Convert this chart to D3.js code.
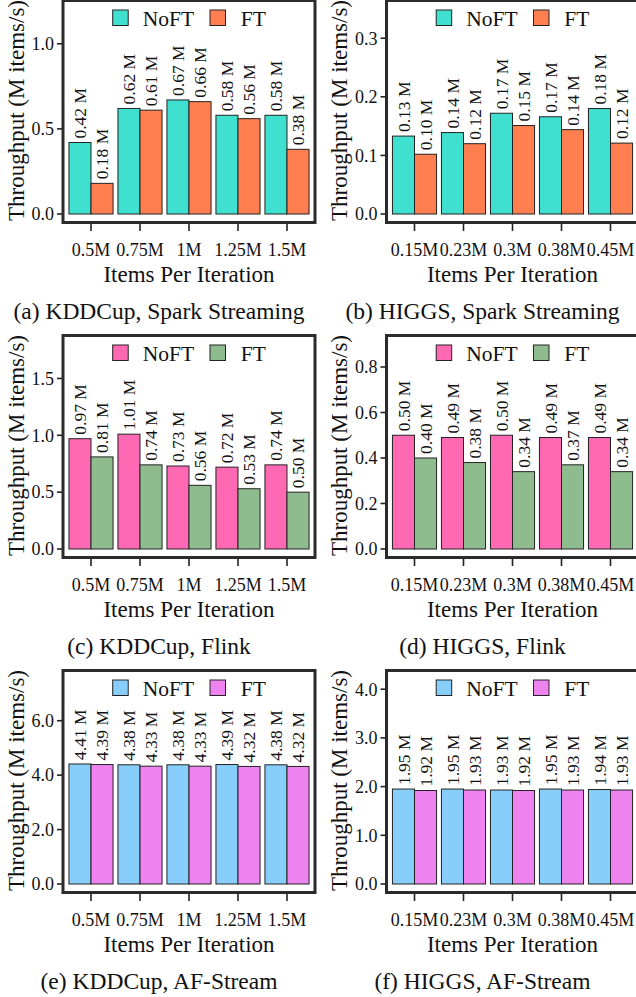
<!DOCTYPE html>
<html><head><meta charset="utf-8">
<script src="https://cdn.jsdelivr.net/npm/d3@7"></script>
<style>
html,body{margin:0;padding:0;background:#fff;}
svg{display:block;}
</style></head>
<body>
<svg id="c" width="636" height="997"></svg>
<script>
// ---- data ----
const catsKDD = ["0.5M","0.75M","1M","1.25M","1.5M"];
const catsHIGGS = ["0.15M","0.23M","0.3M","0.38M","0.45M"];
const seriesNames = ["NoFT","FT"];

const sparkKDD_NoFT = [0.42,0.62,0.67,0.58,0.58];
const sparkKDD_FT   = [0.18,0.61,0.66,0.56,0.38];
const sparkHIGGS_NoFT = [0.133,0.139,0.172,0.166,0.180];
const sparkHIGGS_FT   = [0.102,0.120,0.151,0.144,0.121];
const flinkKDD_NoFT = [0.97,1.01,0.73,0.72,0.74];
const flinkKDD_FT   = [0.81,0.74,0.56,0.53,0.50];
const flinkHIGGS_NoFT = [0.50,0.49,0.50,0.49,0.49];
const flinkHIGGS_FT   = [0.40,0.38,0.34,0.37,0.34];
const afKDD_NoFT = [4.41,4.38,4.38,4.39,4.38];
const afKDD_FT   = [4.39,4.33,4.33,4.32,4.32];
const afHIGGS_NoFT = [1.95,1.95,1.93,1.95,1.94];
const afHIGGS_FT   = [1.92,1.93,1.92,1.93,1.93];

const ticksA = [0,0.5,1.0];
const ticksB = [0,0.1,0.2,0.3];
const ticksC = [0,0.5,1.0,1.5];
const ticksD = [0,0.2,0.4,0.6,0.8];
const ticksE = [0,2,4,6];
const ticksF = [0,1,2,3,4];

const captions = ["(a) KDDCup, Spark Streaming","(b) HIGGS, Spark Streaming",
  "(c) KDDCup, Flink","(d) HIGGS, Flink","(e) KDDCup, AF-Stream","(f) HIGGS, AF-Stream"];
const xTitle = "Items Per Iteration";
const yTitle = "Throughput (M items/s)";

const colorsSpark = ["#40E0D0","#FF7F50"];
const colorsFlink = ["#FF69B4","#8FBC8F"];
const colorsAF = ["#87CEFA","#EE82EE"];

const panels = [
  {cats:catsKDD, vals:[sparkKDD_NoFT,sparkKDD_FT], ticks:ticksA, yTop:1.263, colors:colorsSpark, col:0,row:0},
  {cats:catsHIGGS, vals:[sparkHIGGS_NoFT,sparkHIGGS_FT], ticks:ticksB, yTop:0.367, colors:colorsSpark, col:1,row:0},
  {cats:catsKDD, vals:[flinkKDD_NoFT,flinkKDD_FT], ticks:ticksC, yTop:1.891, colors:colorsFlink, col:0,row:1},
  {cats:catsHIGGS, vals:[flinkHIGGS_NoFT,flinkHIGGS_FT], ticks:ticksD, yTop:0.945, colors:colorsFlink, col:1,row:1},
  {cats:catsKDD, vals:[afKDD_NoFT,afKDD_FT], ticks:ticksE, yTop:7.9, colors:colorsAF, col:0,row:2},
  {cats:catsHIGGS, vals:[afHIGGS_NoFT,afHIGGS_FT], ticks:ticksF, yTop:4.415, colors:colorsAF, col:1,row:2},
];

// ---- layout ----
const FONT = "Liberation Serif";
const colX = [0, 323.5];
const rowY = [-1, 334, 669];
const svg = d3.select("#c");
const ink = "#111";
const fmt = d3.format(".2f");
const tfmt = d3.format(".1f");

function txt(sel, size){
  return sel.append("text").style("font-family",FONT).attr("font-size",size).attr("fill",ink);
}

panels.forEach((p,i)=>{
  const ox = colX[p.col], oy = rowY[p.row];
  const g = svg.append("g").attr("transform",`translate(${ox},${oy})`);
  const x = d3.scaleBand().domain(p.cats).range([66.5,311.5]).paddingInner(0.1).paddingOuter(0.05);
  const xs = d3.scaleBand().domain(seriesNames).range([0,x.bandwidth()]);
  const y = d3.scaleLinear().domain([0,p.yTop]).range([215,0]);

  // frame
  g.append("rect").attr("x",63).attr("y",1.5).attr("width",252).attr("height",222)
    .attr("fill","#fff").attr("stroke","#2b2b2b").attr("stroke-width",3);

  // bars
  const rows = p.cats.map((c,j)=>({cat:c, v:seriesNames.map((s,k)=>({s, k, val:p.vals[k][j]}))}));
  const grp = g.append("g").selectAll("g").data(rows).join("g")
    .attr("transform",d=>`translate(${x(d.cat)},0)`);
  grp.selectAll("rect").data(d=>d.v).join("rect")
    .attr("x",d=>xs(d.s)).attr("width",xs.bandwidth())
    .attr("y",d=>y(d.val)).attr("height",d=>y(0)-y(d.val))
    .attr("fill",d=>p.colors[d.k]).attr("stroke","#222").attr("stroke-width",1);
  grp.selectAll("text").data(d=>d.v).join("text")
    .style("font-family",FONT).attr("font-size",17.5).attr("fill",ink)
    .attr("transform",d=>`translate(${xs(d.s)+xs.bandwidth()/2},${y(d.val)-4}) rotate(-90)`)
    .attr("dy","0.35em")
    .text(d=>fmt(d.val)+" M");

  // y axis
  const ya = g.append("g");
  p.ticks.forEach(t=>{
    ya.append("line").attr("x1",57).attr("x2",62).attr("y1",y(t)).attr("y2",y(t))
      .attr("stroke","#222").attr("stroke-width",1.6);
    txt(ya,18).attr("x",54).attr("y",y(t)).attr("dy","0.35em")
      .attr("text-anchor","end").text(tfmt(t));
  });
  // x axis
  p.cats.forEach(c=>{
    const cx = x(c)+x.bandwidth()/2;
    g.append("line").attr("x1",cx).attr("x2",cx).attr("y1",225).attr("y2",232)
      .attr("stroke","#222").attr("stroke-width",1.6);
    txt(g,18).attr("x",cx).attr("y",257).attr("text-anchor","middle").text(c);
  });
  txt(g,23).attr("x",189).attr("y",282.5).attr("text-anchor","middle").text(xTitle);
  txt(g,23).attr("transform","translate(23.5,111.5) rotate(-90)")
    .attr("text-anchor","middle").text(yTitle);
  txt(g,23.5).attr("x",159).attr("y",320).attr("text-anchor","middle").text(captions[i]);

  // legend
  const lg = g.append("g").attr("transform","translate(189,0)");
  const sqX = [-76.3, 21], txX = [-46.3, 51.7];
  seriesNames.forEach((s,k)=>{
    lg.append("rect").attr("x",sqX[k]).attr("y",11).attr("width",15.5).attr("height",15.5)
      .attr("fill",p.colors[k]).attr("stroke","#222").attr("stroke-width",1);
    txt(lg,21.5).attr("x",txX[k]).attr("y",26.5).text(s);
  });
});
</script>
</body></html>
